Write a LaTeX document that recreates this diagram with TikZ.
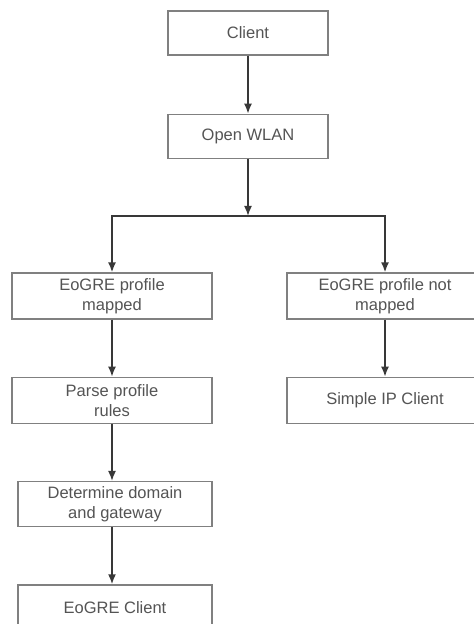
\documentclass[tikz,border=0pt]{standalone}
\usepackage{fontspec}
\setmainfont{Liberation Sans}
\usetikzlibrary{arrows.meta, positioning}
\definecolor{linegray}{rgb}{0.22,0.22,0.22}
\definecolor{boxgray}{rgb}{0.5,0.5,0.5}
\definecolor{textgray}{rgb}{0.33,0.33,0.33}

\begin{document}
\begin{tikzpicture}[x=1pt,y=-1pt,font=\fontsize{16.5}{20}\selectfont,node distance=57pt,->,>={Latex[length=10pt,width=8pt]},line width=1.6pt]

	\tikzset{top box/.style={draw=boxgray, line width=1.3pt,
			text=textgray, inner sep=0pt, align=center,
			minimum width=160pt, minimum height=44pt}}
	\tikzset{step box/.style={top box,
			minimum width=200pt, minimum height=46pt}}
	\tikzset{low box/.style={step box,
			minimum width=194pt, minimum height=45pt}}

	\useasboundingbox (0,0) rectangle (474,624);

	\node[top box] (client) at (248,33) {Client};
	\node[top box, below=58pt of client] (wlan) {Open WLAN};
	\coordinate[below=of wlan] (split);
	\node[step box] (mapped) at (112,296) {EoGRE profile\\mapped};
	\node[step box, minimum width=196pt] (notmapped) at (385,296) {EoGRE profile not\\mapped};
	\node[step box, below=of mapped] (parse) {Parse profile\\rules};
	\node[step box, minimum width=196pt, below=of notmapped] (simple) {Simple IP Client};
	\node[low box, below=of parse, xshift=3pt] (domain) {Determine domain\\and gateway};
	\node[low box, below=of domain, minimum height=46pt] (eoclient) {EoGRE Client};

	\draw[draw=linegray] (client) -- (wlan);
	\draw[draw=linegray] (wlan) -- (split);
	\draw[draw=linegray] (split) -| (mapped);
	\draw[draw=linegray] (split) -| (notmapped);
	\draw[draw=linegray] (mapped) -- (parse);
	\draw[draw=linegray] (notmapped) -- (simple);
	\draw[draw=linegray] (parse) -- (parse |- domain.north);
	\draw[draw=linegray] (domain.south -| parse) -- (parse |- eoclient.north);
\end{tikzpicture}
\end{document}
